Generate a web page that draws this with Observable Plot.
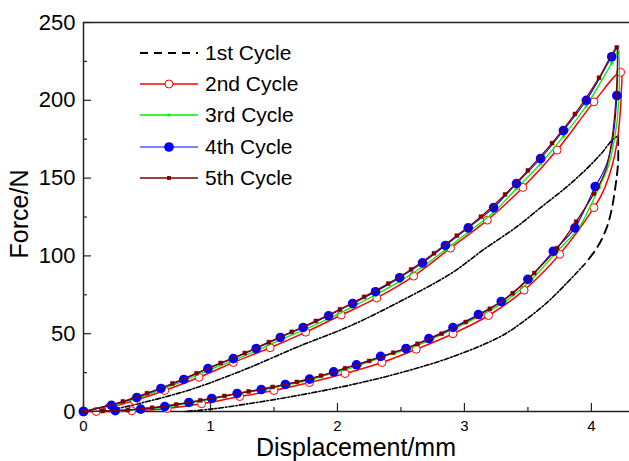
<!DOCTYPE html>
<html><head><meta charset="utf-8">
<script src="https://cdn.jsdelivr.net/npm/d3@7"></script>
<script src="https://cdn.jsdelivr.net/npm/@observablehq/plot@0.6"></script>
<style>
body{margin:0;background:#fff;}
#wrap{position:relative;width:629px;height:461px;overflow:hidden;font-family:Arial,"Liberation Sans",sans-serif;color:#000;}
#wrap svg{font-family:Arial,"Liberation Sans",sans-serif;}
.ttl{position:absolute;font-size:25px;white-space:nowrap;line-height:1;}
#legend{position:absolute;left:138px;top:37px;}
.lrow{display:flex;align-items:center;height:31.3px;font-size:21px;}
.lrow svg{margin-right:5px;}
</style>
</head><body>
<div id="wrap"></div>
<script>
// ---------------- data ----------------
const cycleNames = ["1st Cycle", "2nd Cycle", "3rd Cycle", "4th Cycle", "5th Cycle"];
const cycleColors = ["#000000", "#ff0000", "#00ee00", "#0000ff", "#7f0000"];
const xTicks = [0, 1, 2, 3, 4];
const yTicks = [0, 50, 100, 150, 200, 250];

// 1st cycle: loading, steep start of unloading, rest of unloading
const c1LoadD = [0, 0.2, 0.53, 0.8, 1.0, 1.3, 1.7, 2.1, 2.5, 2.9, 3.15, 3.4, 3.6, 3.8, 3.95, 4.08, 4.17, 4.21];
const c1LoadF = [0, 1, 7, 13, 18.5, 28, 42, 55, 71, 89, 104, 118, 131, 144, 155, 166, 175, 177];
const c1TopD = [4.21, 4.21, 4.19, 4.16, 4.12, 4.05, 3.95];
const c1TopF = [177, 160, 145, 130, 118, 106, 95];
const c1UnloadD = [3.95, 3.8, 3.65, 3.45, 3.28, 2.9, 2.5, 2.1, 1.7, 1.3, 1.0, 0.8];
const c1UnloadF = [95, 82, 70, 57, 48, 35, 25, 17, 10.5, 5, 1.5, 0];

// 2nd cycle
const c2LoadD = [0, 0.2, 0.4, 0.64, 0.91, 1.18, 1.47, 1.75, 2.03, 2.31, 2.6, 2.89, 3.18, 3.46, 3.73, 4.02, 4.23];
const c2LoadF = [0, 2.5, 7, 13.5, 22, 31.5, 41, 51, 62, 73, 87, 105, 123, 144, 168, 199, 218];
const c2TopD = [4.235, 4.225, 4.2, 4.16, 4.09];
const c2TopF = [205, 190, 172, 157, 141];
const c2UnloadD = [4.02, 3.75, 3.47, 3.19, 2.91, 2.62, 2.35, 2.06, 1.78, 1.5, 1.23, 0.93, 0.66, 0.38, 0.1];
const c2UnloadF = [131, 101, 78, 61.7, 50, 40, 31.5, 24.4, 18.6, 13.5, 9.6, 5, 2, 0.5, 0];

// 3rd cycle
const c3LoadD = [0, 0.22, 0.42, 0.61, 0.79, 0.98, 1.18, 1.36, 1.55, 1.73, 1.93, 2.12, 2.3, 2.49, 2.67, 2.85, 3.03, 3.23, 3.41, 3.6, 3.78, 3.96, 4.16, 4.21];
const c3LoadF = [0, 3.7, 8.4, 14, 19.7, 26.4, 32.7, 39, 46, 52.3, 59.6, 67.4, 75, 83.6, 93, 104, 115.2, 128, 143.3, 159.3, 177, 196.5, 224, 231];
const c3TopD = [4.22, 4.215, 4.2, 4.17, 4.135, 4.1];
const c3TopF = [215, 200, 185, 170, 158, 151];
const c3UnloadD = [4.06, 3.9, 3.73, 3.53, 3.32, 3.14, 2.94, 2.75, 2.57, 2.37, 2.18, 2.0, 1.81, 1.62, 1.43, 1.24, 1.04, 0.86, 0.67, 0.48, 0.28, 0];
const c3UnloadF = [144, 118, 103, 85, 70.7, 62.3, 54, 46.9, 40.5, 35.4, 30, 25.5, 20.8, 17.4, 14.1, 11.6, 8.4, 5.8, 3.2, 1.5, 0.5, 0];

// 4th cycle
const c4LoadD = [0, 0.22, 0.42, 0.61, 0.79, 0.98, 1.18, 1.36, 1.55, 1.73, 1.93, 2.12, 2.3, 2.49, 2.67, 2.85, 3.03, 3.23, 3.41, 3.6, 3.78, 3.96, 4.16];
const c4LoadF = [0, 4, 9, 14.8, 20.6, 27.6, 34, 40.5, 47.6, 54, 61.5, 69.4, 77, 86, 95.5, 106.7, 118, 131, 146.5, 162.6, 180.6, 200, 228];
const c4PeakD = [4.2, 4.205];
const c4PeakF = [233, 218];
const c4HeadD = [4.2];
const c4HeadF = [203];
const c4TopD = [4.185, 4.16, 4.12, 4.075];
const c4TopF = [186, 171, 159, 151];
const c4UnloadD = [4.03, 3.87, 3.7, 3.5, 3.29, 3.11, 2.91, 2.72, 2.54, 2.34, 2.15, 1.97, 1.78, 1.59, 1.4, 1.21, 1.01, 0.83, 0.64, 0.45, 0.25, 0];
const c4UnloadF = [144.6, 118, 103, 85, 70.7, 62.3, 54, 46.9, 40.5, 35.4, 30, 25.5, 20.8, 17.4, 14.1, 11.6, 8.4, 5.8, 3.2, 1.5, 0.5, 0];

// 5th cycle
const c5LoadD = [0, 0.31, 0.5, 0.7, 0.89, 1.08, 1.27, 1.46, 1.64, 1.83, 2.02, 2.21, 2.4, 2.58, 2.76, 2.94, 3.13, 3.32, 3.5, 3.69, 3.87, 4.06, 4.2];
const c5LoadF = [0, 6.5, 11.8, 18, 24.6, 31.2, 37.6, 44.6, 51.2, 58.2, 65.7, 73.7, 82.2, 91.3, 101.7, 113, 125.2, 139.5, 155, 172.5, 191.2, 214.5, 234];
const c5TopD = [4.205, 4.2, 4.185, 4.16, 4.12, 4.07];
const c5TopF = [225, 210, 192, 174, 157, 147];
const c5UnloadD = [4.02, 3.88, 3.73, 3.55, 3.38, 3.2, 3.01, 2.82, 2.63, 2.44, 2.25, 2.06, 1.87, 1.68, 1.49, 1.3, 1.11, 0.92, 0.73, 0.54, 0.35, 0.15, 0];
const c5UnloadF = [140, 122, 105, 89, 76, 66, 57.5, 50, 43.5, 37.8, 32.5, 27.8, 23, 19, 15.8, 12.9, 10, 7.2, 4.5, 2.4, 1, 0.3, 0];

// ---------------- build tables ----------------
// each segment: [displacements, forces, has markers]
const toRows = (ds, fs, mark) => ds.map((d, i) => ({d, f: fs[i], mark}));
const build = segs => segs.flatMap(([ds, fs, mark]) => toRows(ds, fs, mark));
const c1Load = toRows(c1LoadD, c1LoadF, false);
const c1Top = toRows(c1TopD, c1TopF, false);
const c1Unload = toRows(c1UnloadD, c1UnloadF, false);
const loops = [
  build([[c2LoadD, c2LoadF, true], [c2TopD, c2TopF, false], [c2UnloadD, c2UnloadF, true]]),
  build([[c3LoadD, c3LoadF, true], [c3TopD, c3TopF, false], [c3UnloadD, c3UnloadF, true]]),
  build([[c4LoadD, c4LoadF, true], [c4PeakD, c4PeakF, false], [c4HeadD, c4HeadF, true], [c4TopD, c4TopF, false], [c4UnloadD, c4UnloadF, true]]),
  build([[c5LoadD, c5LoadF, true], [c5TopD, c5TopF, false], [c5UnloadD, c5UnloadF, true]])
];

const markerStyles = [
  {symbol: "circle", r: 4, fill: "white", stroke: cycleColors[1], strokeWidth: 1},
  {symbol: "square", r: 1.6, fill: cycleColors[2], stroke: cycleColors[2], strokeWidth: 0.5},
  {symbol: "circle", r: 4.8, fill: cycleColors[3], stroke: "none"},
  {symbol: "square", r: 2.2, fill: cycleColors[4], stroke: cycleColors[4], strokeWidth: 0.5}
];
const lineWidths = [1.5, 1.3, 1.1, 1.3];
const dashDot = "5,2,1.5,2";

const marks = [
  Plot.ruleX([0], {stroke: "#222", strokeWidth: 1.5}),
  Plot.ruleY([0, 250], {stroke: "#222", strokeWidth: 1.5}),
  Plot.axisX({ticks: xTicks, tickSize: 0, tickPadding: 9, fontSize: 15, tickFormat: d => String(d), label: null}),
  Plot.axisX({ticks: xTicks, tickSize: -8, tickFormat: () => "", label: null, stroke: "#222", strokeWidth: 1.2}),
  Plot.axisX({ticks: xTicks.map(t => t + 0.5), tickSize: -4, tickFormat: () => "", label: null, stroke: "#222", strokeWidth: 1.2}),
  Plot.axisY({ticks: yTicks, tickSize: 0, tickPadding: 8, fontSize: 22, tickFormat: d => String(d), label: null}),
  Plot.axisY({ticks: yTicks, tickSize: -8, tickFormat: () => "", label: null, stroke: "#222", strokeWidth: 1.2}),
  Plot.axisY({ticks: yTicks.slice(0, -1).map(t => t + 25), tickSize: -4, tickFormat: () => "", label: null, stroke: "#222", strokeWidth: 1.2}),
  Plot.line(c1Load, {x: "d", y: "f", stroke: cycleColors[0], strokeWidth: 1.6, strokeDasharray: dashDot, curve: "catmull-rom"}),
  Plot.line(c1Top, {x: "d", y: "f", stroke: cycleColors[0], strokeWidth: 1.9, strokeDasharray: "9,6", curve: "catmull-rom"}),
  Plot.line(c1Unload, {x: "d", y: "f", stroke: cycleColors[0], strokeWidth: 1.6, strokeDasharray: dashDot, curve: "catmull-rom"})
];
loops.forEach((rows, i) => {
  marks.push(Plot.line(rows, {x: "d", y: "f", stroke: cycleColors[i + 1], strokeWidth: lineWidths[i], curve: "catmull-rom"}));
  marks.push(Plot.dot(rows, {x: "d", y: "f", filter: r => r.mark, ...markerStyles[i]}));
});

const chart = Plot.plot({
  width: 629, height: 461,
  marginLeft: 83, marginRight: 0, marginTop: 22, marginBottom: 50,
  x: {domain: [0, 4.3]},
  y: {domain: [0, 250]},
  style: {fontFamily: "Arial, 'Liberation Sans', sans-serif", color: "#000", background: "white"},
  marks
});
const wrap = document.getElementById("wrap");
wrap.appendChild(chart);

// axis titles
const xt = document.createElement("div");
xt.className = "ttl"; xt.textContent = "Displacement/mm";
xt.style.left = "356px"; xt.style.top = "447px"; xt.style.transform = "translate(-50%,-50%)";
wrap.appendChild(xt);
const yt = document.createElement("div");
yt.className = "ttl"; yt.textContent = "Force/N";
yt.style.left = "19px"; yt.style.top = "214px"; yt.style.transform = "translate(-50%,-50%) rotate(-90deg)";
wrap.appendChild(yt);

// legend
const lg = document.createElement("div");
lg.id = "legend";
cycleNames.forEach((name, i) => {
  const row = document.createElement("div");
  row.className = "lrow";
  let sample = "";
  if (i === 0) {
    sample = `<line x1="2" y1="10" x2="60" y2="10" stroke="#000" stroke-width="1.8" stroke-dasharray="8,6"/>`;
  } else {
    const m = markerStyles[i - 1];
    let mk;
    if (m.symbol === "circle") mk = `<circle cx="31" cy="10" r="${m.r}" fill="${m.fill}" stroke="${m.stroke}" stroke-width="${m.strokeWidth || 0}"/>`;
    else { const s = m.r * 1.77; mk = `<rect x="${31 - s / 2}" y="${10 - s / 2}" width="${s}" height="${s}" fill="${m.fill}"/>`; }
    sample = `<line x1="2" y1="10" x2="60" y2="10" stroke="${cycleColors[i]}" stroke-width="${lineWidths[i - 1]}"/>` + mk;
  }
  row.innerHTML = `<svg width="62" height="20">${sample}</svg><span>${name}</span>`;
  lg.appendChild(row);
});
wrap.appendChild(lg);
</script>
</body></html>
